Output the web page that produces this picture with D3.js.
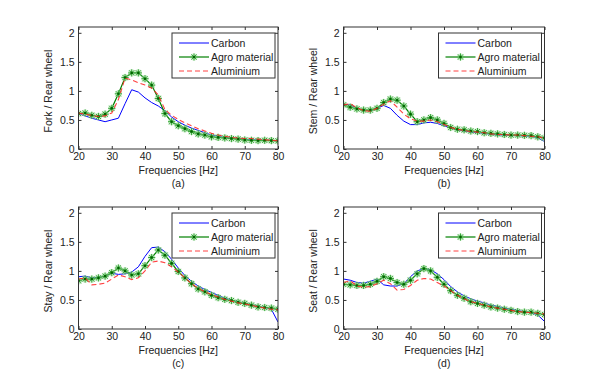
<!DOCTYPE html>
<html><head><meta charset="utf-8">
<script src="https://cdn.jsdelivr.net/npm/d3@7/dist/d3.min.js"></script>
<style>body{margin:0;background:#fff}svg{display:block}text{font-family:"Liberation Sans",Arial,sans-serif}</style>
</head><body><svg id="c" width="600" height="381"></svg>
<script>
const freq = [20,22,24,26,28,30,32,34,36,38,40,42,44,46,48,50,52,54,56,58,60,62,64,66,68,70,72,74,76,78,80];
const xTicks = [20,30,40,50,60,70,80];
const yTicks = [0,0.5,1,1.5,2];
const yTickLabels = ["0","0.5","1","1.5","2"];
const seriesNames = ["Carbon","Agro material","Aluminium"];
const panelLabels = ["(a)","(b)","(c)","(d)"];
const yLabels = ["Fork / Rear wheel","Stem / Rear wheel","Stay / Rear wheel","Seat / Rear wheel"];

// (a) Fork
const forkCarbon = [0.61,0.57,0.53,0.50,0.47,0.50,0.53,0.78,1.02,0.98,0.88,0.80,0.74,0.66,0.55,0.47,0.41,0.36,0.32,0.28,0.24,0.22,0.20,0.19,0.18,0.17,0.16,0.16,0.15,0.15,0.14];
const forkAgro   = [0.61,0.62,0.58,0.56,0.60,0.70,0.95,1.23,1.31,1.31,1.21,1.10,0.87,0.61,0.47,0.40,0.35,0.30,0.26,0.24,0.21,0.20,0.19,0.18,0.17,0.155,0.15,0.145,0.15,0.145,0.14];
const forkAlu    = [0.62,0.60,0.58,0.56,0.57,0.62,0.85,1.22,1.19,1.14,1.10,1.05,0.93,0.68,0.58,0.51,0.45,0.40,0.35,0.31,0.27,0.24,0.22,0.20,0.19,0.18,0.18,0.17,0.16,0.15,0.14];
// (b) Stem
const stemCarbon = [0.77,0.76,0.70,0.67,0.66,0.70,0.75,0.70,0.58,0.48,0.42,0.42,0.45,0.46,0.44,0.40,0.36,0.33,0.31,0.29,0.28,0.27,0.25,0.24,0.24,0.23,0.23,0.22,0.22,0.19,0.13];
const stemAgro   = [0.76,0.72,0.69,0.67,0.67,0.70,0.80,0.86,0.84,0.74,0.60,0.47,0.50,0.54,0.50,0.44,0.37,0.34,0.33,0.31,0.30,0.28,0.27,0.26,0.25,0.24,0.24,0.235,0.23,0.21,0.19];
const stemAlu    = [0.76,0.78,0.71,0.66,0.65,0.70,0.77,0.83,0.72,0.60,0.52,0.48,0.48,0.50,0.47,0.42,0.37,0.34,0.32,0.30,0.29,0.28,0.26,0.25,0.25,0.24,0.24,0.23,0.22,0.21,0.19];
// (c) Stay
const stayCarbon = [0.90,0.91,0.88,0.89,0.91,0.96,0.94,0.95,0.98,1.07,1.25,1.40,1.41,1.33,1.20,1.05,0.92,0.82,0.74,0.68,0.63,0.58,0.53,0.50,0.47,0.44,0.42,0.39,0.37,0.34,0.12];
const stayAgro   = [0.83,0.86,0.86,0.88,0.91,0.97,1.05,1.00,0.93,0.95,1.09,1.23,1.36,1.27,1.13,0.99,0.88,0.78,0.69,0.64,0.58,0.54,0.51,0.49,0.46,0.44,0.41,0.38,0.37,0.36,0.34];
const stayAlu    = [0.86,0.88,0.76,0.77,0.79,0.86,0.93,0.90,0.85,0.88,1.00,1.15,1.17,1.14,1.07,0.98,0.88,0.78,0.70,0.64,0.59,0.55,0.51,0.48,0.45,0.43,0.41,0.38,0.36,0.34,0.33];
// (d) Seat
const seatCarbon = [0.86,0.84,0.80,0.79,0.82,0.86,0.76,0.74,0.74,0.78,0.90,1.00,1.04,1.02,0.95,0.85,0.73,0.64,0.57,0.52,0.48,0.45,0.41,0.39,0.36,0.34,0.32,0.30,0.28,0.24,0.13];
const seatAgro   = [0.77,0.76,0.75,0.75,0.77,0.82,0.90,0.87,0.80,0.77,0.84,0.95,1.04,1.00,0.89,0.77,0.66,0.58,0.53,0.47,0.44,0.41,0.38,0.36,0.34,0.32,0.30,0.29,0.29,0.27,0.25];
const seatAlu    = [0.80,0.83,0.74,0.72,0.73,0.78,0.84,0.78,0.67,0.68,0.75,0.84,0.87,0.86,0.80,0.74,0.66,0.58,0.52,0.47,0.44,0.41,0.38,0.36,0.34,0.32,0.30,0.29,0.28,0.27,0.26];

const panels = [
  {x0:78.5, y0:27, w:199.5, h:122, data:[forkCarbon, forkAgro, forkAlu]},
  {x0:343.5, y0:27, w:201, h:122, data:[stemCarbon, stemAgro, stemAlu]},
  {x0:78.5, y0:207, w:199.5, h:122, data:[stayCarbon, stayAgro, stayAlu]},
  {x0:343.5, y0:207, w:201, h:122, data:[seatCarbon, seatAgro, seatAlu]}
];
const colors = ["#0000ff","#008000","#ff2020"];
const svg = d3.select("#c");

function star(g, cx, cy, r){
  const s = g.append("g").attr("transform",`translate(${cx},${cy})`);
  // halo
  s.append("circle").attr("r", r).attr("fill","#9fdc9f").attr("opacity",0.55);
  const d = r*0.72;
  [[-r,0,r,0],[0,-r,0,r],[-d,-d,d,d],[-d,d,d,-d]].forEach(l=>{
    s.append("line").attr("x1",l[0]).attr("y1",l[1]).attr("x2",l[2]).attr("y2",l[3])
     .attr("stroke","#3aa83a").attr("stroke-width",1);
  });
  s.append("circle").attr("r",1.3).attr("fill","#006400");
}

panels.forEach((p,i)=>{
  const x = d3.scaleLinear().domain([20,80]).range([p.x0, p.x0+p.w]);
  const y = d3.scaleLinear().domain([0,2.1]).range([p.y0+p.h, p.y0]);
  const g = svg.append("g");
  g.append("rect").attr("x",p.x0).attr("y",p.y0).attr("width",p.w).attr("height",p.h)
    .attr("fill","#fff");
  const clip = "clip"+i;
  svg.append("clipPath").attr("id",clip).append("rect")
    .attr("x",p.x0).attr("y",p.y0).attr("width",p.w).attr("height",p.h);
  const plot = g.append("g").attr("clip-path",`url(#${clip})`);
  const line = d3.line().x((d,j)=>x(freq[j])).y(d=>y(d));
  // Aluminium, Carbon, Agro drawing order
  plot.append("path").datum(p.data[0]).attr("d",line).attr("fill","none")
    .attr("stroke",colors[0]).attr("stroke-width",1);
  plot.append("path").datum(p.data[1]).attr("d",line).attr("fill","none")
    .attr("stroke",colors[1]).attr("stroke-width",1.2);
  p.data[1].forEach((v,j)=>star(plot, x(freq[j]), y(v), 3.6));
  plot.append("path").datum(p.data[2]).attr("d",line).attr("fill","none")
    .attr("stroke",colors[2]).attr("stroke-width",1.1).attr("stroke-dasharray","5,3").attr("opacity",0.85);

  // axes with inward ticks on all sides
  const ax = d3.axisBottom(x).tickValues(xTicks).tickSize(-3).tickPadding(4).tickFormat(d3.format("d"));
  const axT = d3.axisTop(x).tickValues(xTicks).tickSize(-3).tickFormat("");
  const ay = d3.axisLeft(y).tickValues(yTicks).tickSize(-3).tickPadding(4).tickFormat((d,k)=>yTickLabels[k]);
  const ayR = d3.axisRight(y).tickValues(yTicks).tickSize(-3).tickFormat("");
  const style = s=>{s.select(".domain").remove(); s.selectAll("line").attr("stroke","#333");
    s.selectAll("text").attr("fill","#222").style("font-size","10.5px").style("font-family","'Liberation Sans',Arial,sans-serif");};
  g.append("g").attr("transform",`translate(0,${p.y0+p.h})`).call(ax).call(style);
  g.append("g").attr("transform",`translate(0,${p.y0})`).call(axT).call(style);
  g.append("g").attr("transform",`translate(${p.x0},0)`).call(ay).call(style);
  g.append("g").attr("transform",`translate(${p.x0+p.w},0)`).call(ayR).call(style);
  g.append("rect").attr("x",p.x0).attr("y",p.y0).attr("width",p.w).attr("height",p.h)
    .attr("fill","none").attr("stroke","#333").attr("stroke-width",1);

  // labels
  g.append("text").attr("x",p.x0+p.w/2).attr("y",p.y0+p.h+25).attr("text-anchor","middle")
    .style("font-size","10.5px").attr("fill","#222").text("Frequencies [Hz]");
  g.append("text").attr("x",p.x0+p.w/2).attr("y",p.y0+p.h+38).attr("text-anchor","middle")
    .style("font-size","10.5px").attr("fill","#222").text(panelLabels[i]);
  g.append("text").attr("transform",`translate(${p.x0-27},${p.y0+p.h/2+3}) rotate(-90)`)
    .attr("text-anchor","middle").style("font-size","10.5px").attr("fill","#222").text(yLabels[i]);

  // legend
  const lw=103, lh=45, lx=p.x0+p.w-lw-3, ly=p.y0+6;
  const lg = g.append("g");
  lg.append("rect").attr("x",lx).attr("y",ly).attr("width",lw).attr("height",lh)
    .attr("fill","#fff").attr("stroke","#333").attr("stroke-width",1);
  seriesNames.forEach((n,k)=>{
    const yy = ly+10+k*14;
    const ln = lg.append("line").attr("x1",lx+7).attr("x2",lx+37).attr("y1",yy).attr("y2",yy)
      .attr("stroke",colors[k]).attr("stroke-width",k===1?1.2:1);
    if(k===2) ln.attr("stroke-dasharray","5,3").attr("opacity",0.85);
    if(k===1) star(lg, lx+22, yy, 3.6);
    lg.append("text").attr("x",lx+39).attr("y",yy+3.8).style("font-size","10.5px").attr("fill","#222").text(n);
  });
});
</script></body></html>
